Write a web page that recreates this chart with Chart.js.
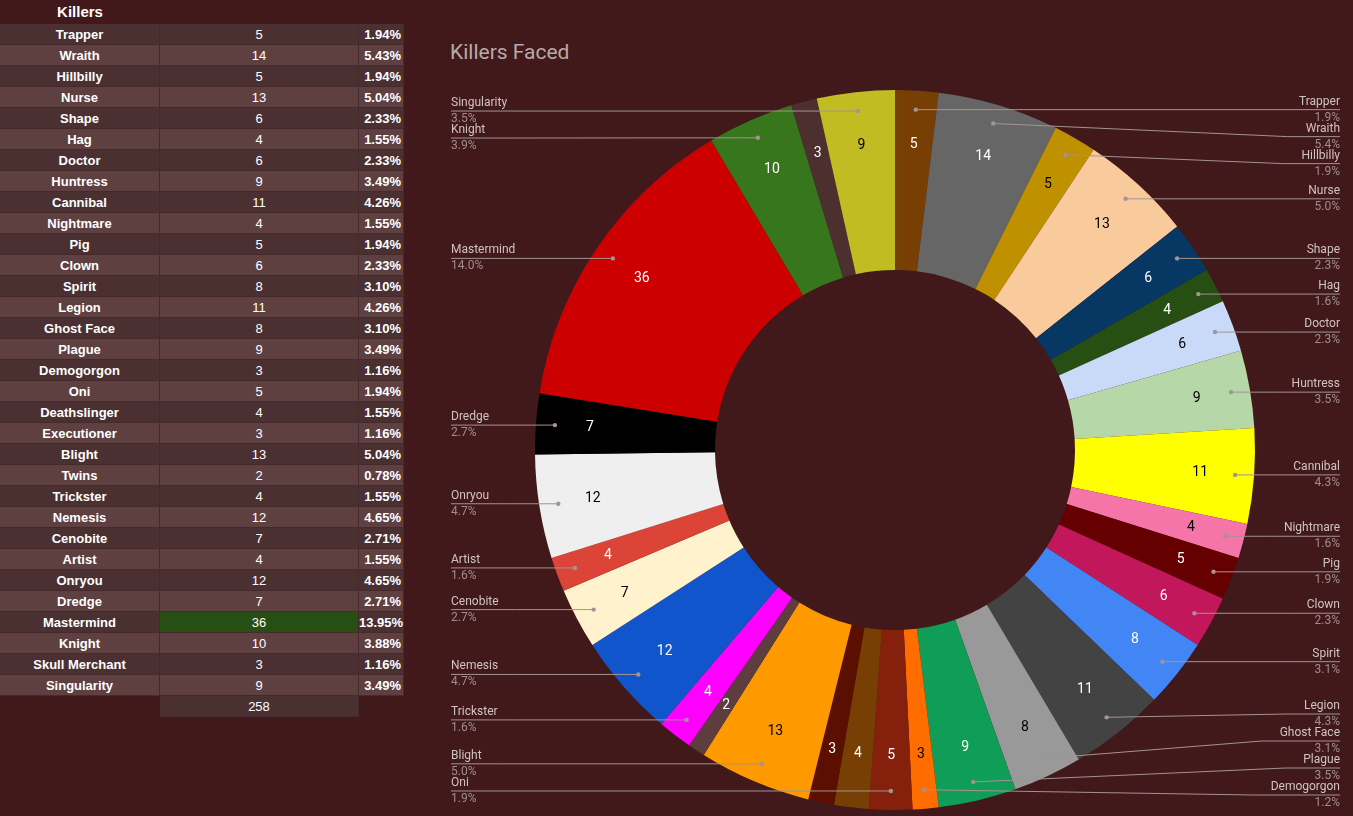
<!DOCTYPE html>
<html>
<head>
<meta charset="utf-8">
<title>Killers Faced</title>
<script src="https://cdn.jsdelivr.net/npm/chart.js@4.4.1/dist/chart.umd.min.js"></script>
<style>
    body {
        margin: 0;
        background: #41191b;
        width: 1353px;
        height: 816px;
        overflow: hidden;
        position: relative;
        font-family: "Liberation Sans", Arial, sans-serif;
    }
    #sheet { position: absolute; left: 0; top: 0; width: 404px; }
    .hdr { height: 24px; line-height: 23px; width: 160px; text-align: center; color: #fff; font-weight: bold; font-size: 15px; }
    .row { display: flex; height: 21px; }
    .row div {
        box-sizing: border-box;
        height: 21px;
        line-height: 21px;
        font-size: 13px;
        color: #fff;
        border-right: 1px solid #45292b;
        border-bottom: 1px solid #45292b;
        white-space: nowrap;
    }
    .c1 { width: 160px; text-align: center; font-weight: bold; }
    .c2 { width: 199px; text-align: center; }
    .c3 { width: 45px; text-align: right; font-weight: bold; padding-right: 2px; }
    .dark div { background: #4b3032; }
    .light div { background: #5f4041; }
    .row div.top { background: #274e13; }
    .row div.empty { background: transparent; border-color: transparent; }
    #title {
        position: absolute;
        left: 450px;
        top: 40px;
        font-family: Roboto, sans-serif;
        font-size: 21px;
        line-height: 25px;
        color: #b8a9a9;
    }
    #chart { position: absolute; left: 440px; top: 0; }
</style>
</head>
<body>
<div id="sheet"></div>
<div id="title">Killers Faced</div>
<canvas id="chart" width="913" height="816"></canvas>

<script>
const killers = ["Trapper", "Wraith", "Hillbilly", "Nurse", "Shape", "Hag", "Doctor", "Huntress",
    "Cannibal", "Nightmare", "Pig", "Clown", "Spirit", "Legion", "Ghost Face", "Plague",
    "Demogorgon", "Oni", "Deathslinger", "Executioner", "Blight", "Twins", "Trickster", "Nemesis",
    "Cenobite", "Artist", "Onryou", "Dredge", "Mastermind", "Knight", "Skull Merchant", "Singularity"];
const faced = [5, 14, 5, 13, 6, 4, 6, 9, 11, 4, 5, 6, 8, 11, 8, 9, 3, 5, 4, 3, 13, 2, 4, 12, 7, 4, 12, 7, 36, 10, 3, 9];
const sliceColors = ["#783f04", "#666666", "#bf9000", "#f9cb9c", "#073763", "#274e13", "#c9daf8", "#b6d7a8",
    "#ffff00", "#f675a8", "#660000", "#c2185b", "#4285f4", "#434343", "#999999", "#0f9d58",
    "#ff6d01", "#85200c", "#783f04", "#5b0f00", "#ff9900", "#5d3d3d", "#ff00ff", "#1155cc",
    "#fff2cc", "#db4437", "#efefef", "#000000", "#cc0000", "#38761d", "#4c3030", "#c0bc22"];
// slices too thin for an outside label
const hiddenLabels = ["Deathslinger", "Executioner", "Twins", "Skull Merchant"];

const total = faced.reduce((a, b) => a + b, 0);

// left hand table
const sheet = document.getElementById('sheet');
sheet.innerHTML = '<div class="hdr">Killers</div>';
const maxFaced = Math.max(...faced);
killers.forEach((name, i) => {
    const row = document.createElement('div');
    row.className = 'row ' + (i % 2 === 0 ? 'dark' : 'light');
    row.innerHTML = `<div class="c1">${name}</div>` +
        `<div class="c2${faced[i] === maxFaced ? ' top' : ''}">${faced[i]}</div>` +
        `<div class="c3">${(faced[i] / total * 100).toFixed(2)}%</div>`;
    sheet.appendChild(row);
});
const totalRow = document.createElement('div');
totalRow.className = 'row dark';
totalRow.innerHTML = '<div class="c1 empty"></div><div class="c2">' + total + '</div><div class="c3 empty"></div>';
sheet.appendChild(totalRow);

function textColorFor(hex) {
    const r = parseInt(hex.substr(1, 2), 16);
    const g = parseInt(hex.substr(3, 2), 16);
    const b = parseInt(hex.substr(5, 2), 16);
    return (0.299 * r + 0.587 * g + 0.114 * b) > 135 ? '#000' : '#fff';
}

// spread labels on one side so they don't overlap
function spread(items, gap, minY, maxY) {
    items.sort((a, b) => a.dy - b.dy);
    items.forEach((it, i) => {
        it.y = Math.max(it.dy, minY);
        if (i > 0) it.y = Math.max(it.y, items[i - 1].y + gap);
    });
    for (let i = items.length - 1; i >= 0; i--) {
        if (i === items.length - 1) items[i].y = Math.min(items[i].y, maxY);
        else items[i].y = Math.min(items[i].y, items[i + 1].y - gap);
    }
}

const sliceLabels = {
    id: 'sliceLabels',
    afterDatasetsDraw(chart) {
        const ctx = chart.ctx;
        const meta = chart.getDatasetMeta(0);
        const left = [], right = [];

        ctx.save();
        meta.data.forEach((arc, i) => {
            const p = arc.getProps(['x', 'y', 'startAngle', 'endAngle', 'innerRadius', 'outerRadius'], true);
            const mid = (p.startAngle + p.endAngle) / 2;

            // value inside the ring
            const r = p.innerRadius + (p.outerRadius - p.innerRadius) * 0.7;
            ctx.fillStyle = textColorFor(sliceColors[i]);
            ctx.font = '14px Roboto';
            ctx.textAlign = 'center';
            ctx.textBaseline = 'middle';
            ctx.fillText(faced[i], p.x + Math.cos(mid) * r, p.y + Math.sin(mid) * r);

            if (hiddenLabels.includes(killers[i])) return;
            const dr = p.outerRadius - 19;
            const item = {
                name: killers[i],
                pct: (faced[i] / total * 100).toFixed(1) + '%',
                dx: p.x + Math.cos(mid) * dr,
                dy: p.y + Math.sin(mid) * dr
            };
            (item.dx >= p.x ? right : left).push(item);
        });

        spread(right, 27, 100, 795);
        spread(left, 27, 100, 795);

        ctx.font = '12px Roboto';
        ctx.textBaseline = 'middle';
        const drawSide = (items, isRight) => {
            const edge = isRight ? 900 : 11;
            items.forEach(it => {
                const w = Math.max(ctx.measureText(it.name).width, ctx.measureText(it.pct).width);
                const elbow = isRight ? edge - w - 18 : edge + w + 18;
                ctx.strokeStyle = '#a39393';
                ctx.lineWidth = 1;
                ctx.beginPath();
                ctx.moveTo(it.dx, it.dy);
                ctx.lineTo(elbow, it.y);
                ctx.lineTo(edge, it.y);
                ctx.stroke();
                ctx.fillStyle = '#a39393';
                ctx.beginPath();
                ctx.arc(it.dx, it.dy, 2.2, 0, Math.PI * 2);
                ctx.fill();

                ctx.textAlign = isRight ? 'right' : 'left';
                ctx.fillStyle = '#d0c3c3';
                ctx.fillText(it.name, edge, it.y - 8);
                ctx.fillStyle = '#a08d8d';
                ctx.fillText(it.pct, edge, it.y + 8);
            });
        };
        drawSide(right, true);
        drawSide(left, false);
        ctx.restore();
    }
};

new Chart(document.getElementById('chart'), {
    type: 'doughnut',
    data: {
        labels: killers,
        datasets: [{
            data: faced,
            backgroundColor: sliceColors,
            borderWidth: 0
        }]
    },
    options: {
        responsive: false,
        animation: false,
        cutout: '50%',
        layout: {
            padding: { left: 95, right: 98, top: 90, bottom: 6 }
        },
        plugins: {
            legend: { display: false },
            tooltip: { enabled: false },
            title: { display: false }
        }
    },
    plugins: [sliceLabels]
});
</script>
</body>
</html>
